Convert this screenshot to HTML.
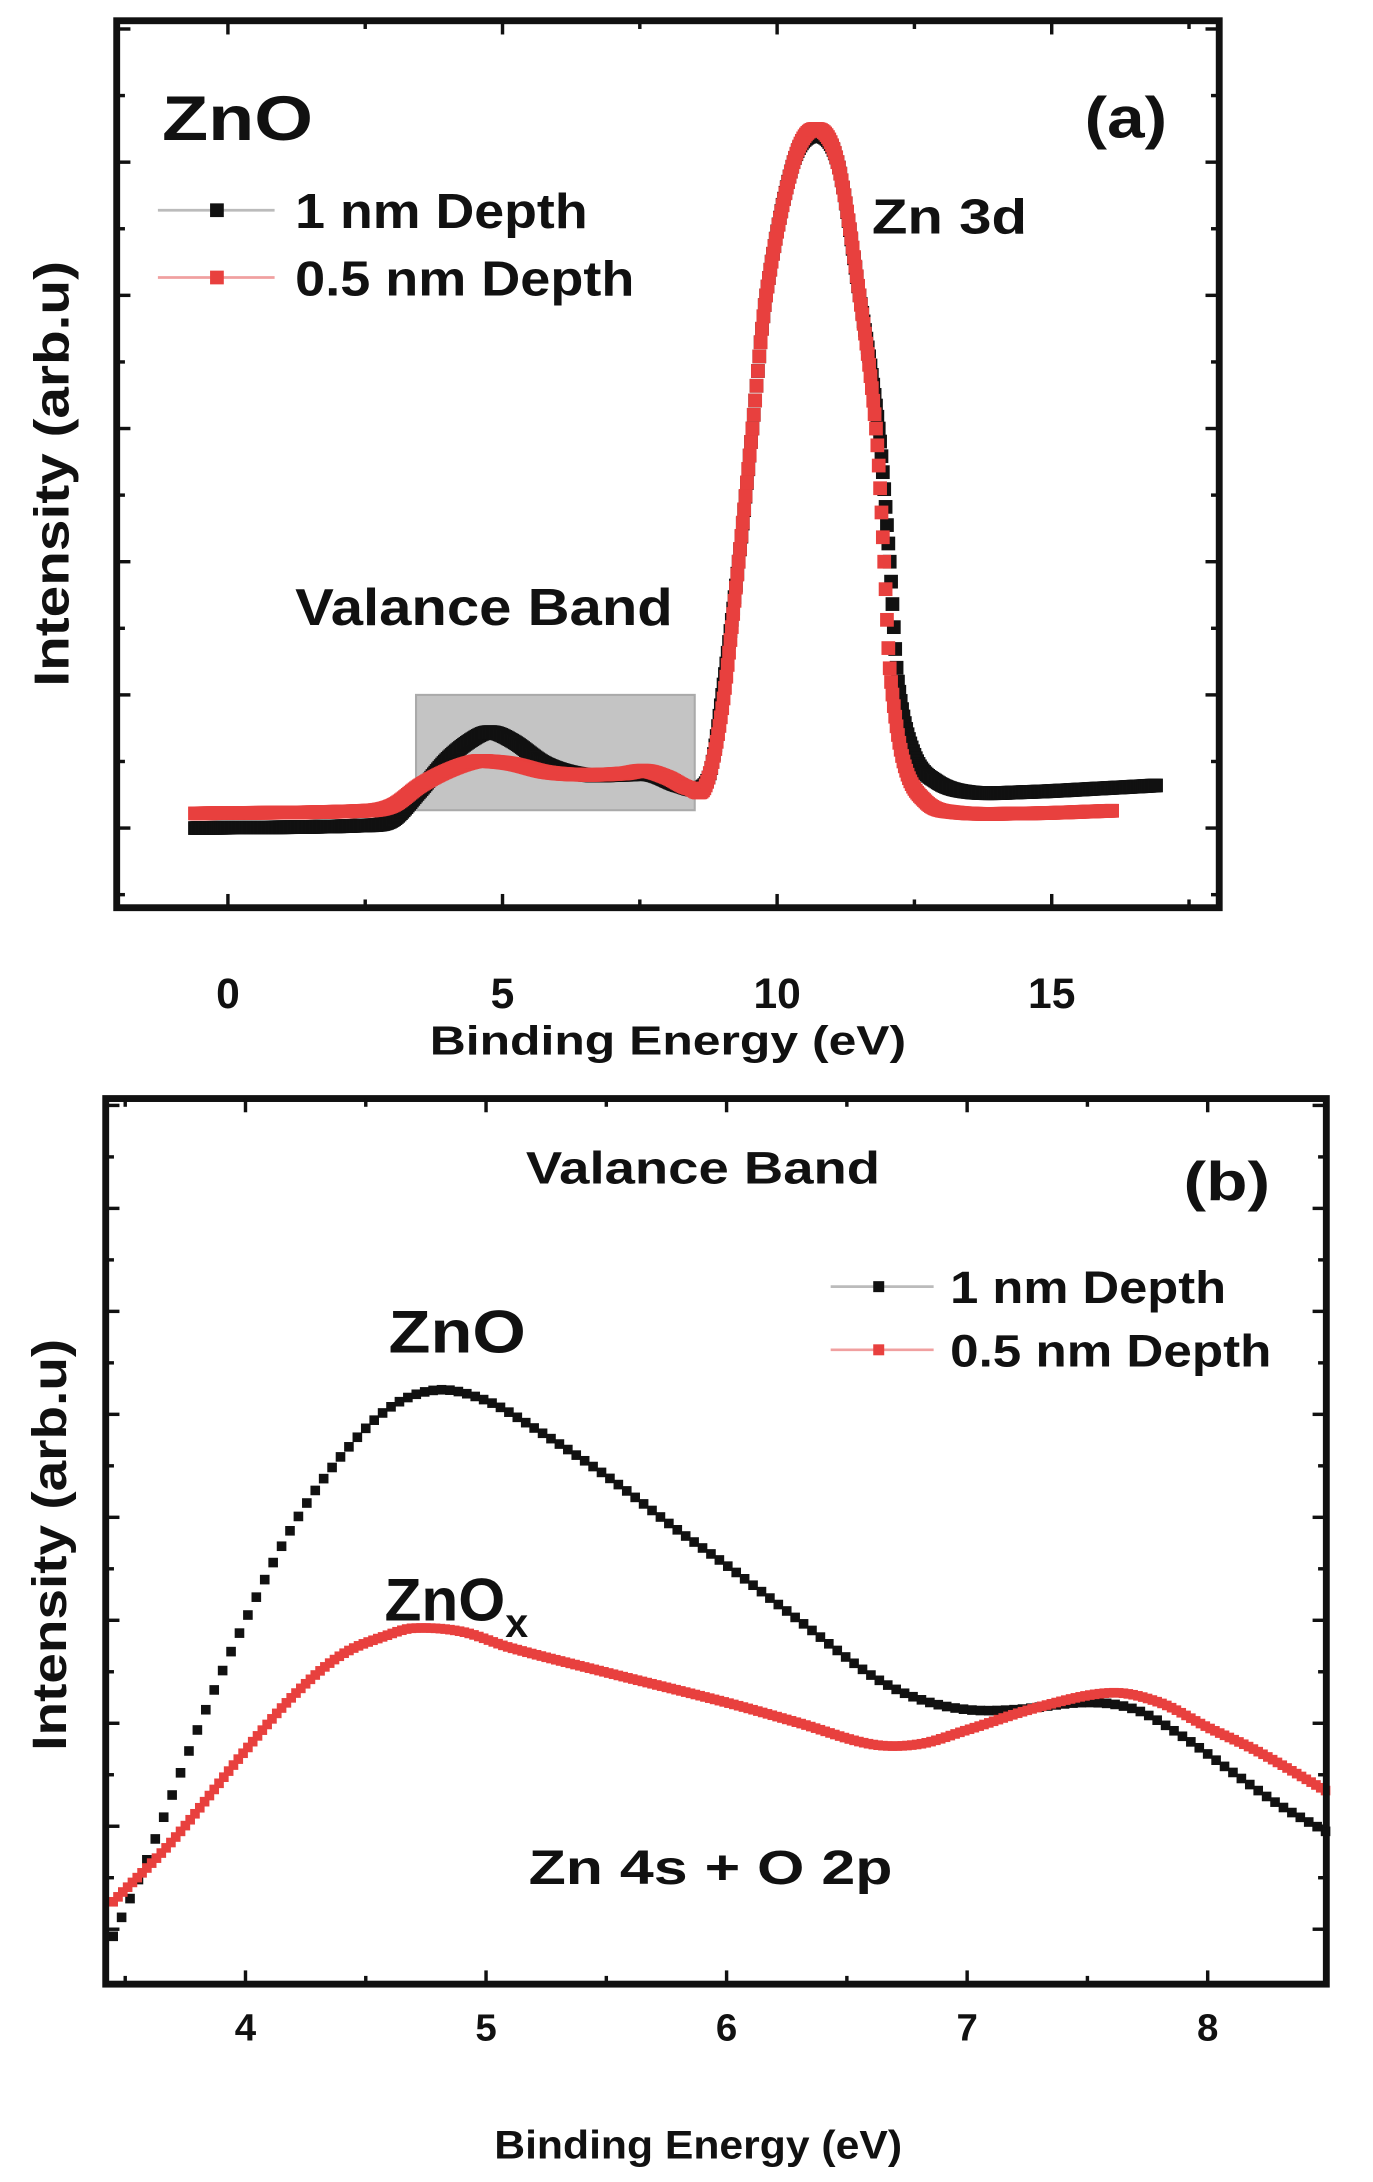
<!DOCTYPE html>
<html><head><meta charset="utf-8"><style>
html,body{margin:0;padding:0;background:#fff;}
svg{display:block;}
text{font-family:"Liberation Sans",Arial,sans-serif;font-weight:bold;fill:#111;}
</style></head><body>
<svg id="fig" width="1373" height="2182" viewBox="0 0 1000 1589" xmlns="http://www.w3.org/2000/svg">
<g id="pa">
  <rect x="303" y="506" width="203" height="84" fill="#c4c4c4" stroke="#aaa" stroke-width="1.5"/>
  <g id="pa-data"></g>
  <rect x="85" y="15" width="803" height="646" fill="none" stroke="#111" stroke-width="5"/>
  <g id="pa-ticks"></g>
  <text x="118" y="102" font-size="46" textLength="110" lengthAdjust="spacingAndGlyphs">ZnO</text>
  <text x="790" y="100" font-size="42" textLength="60" lengthAdjust="spacingAndGlyphs">(a)</text>
  <line x1="115" y1="153" x2="200" y2="153" stroke="#bbb" stroke-width="2"/>
  <rect x="153" y="148" width="10" height="10" fill="#111"/>
  <text x="215" y="166" font-size="36" textLength="213" lengthAdjust="spacingAndGlyphs">1 nm Depth</text>
  <line x1="115" y1="202" x2="200" y2="202" stroke="#f0a0a0" stroke-width="2"/>
  <rect x="153" y="197" width="10" height="10" fill="#e8403e"/>
  <text x="215" y="215" font-size="36" textLength="247" lengthAdjust="spacingAndGlyphs">0.5 nm Depth</text>
  <text x="635" y="170" font-size="36" textLength="113" lengthAdjust="spacingAndGlyphs">Zn 3d</text>
  <text x="215" y="455" font-size="38" textLength="275" lengthAdjust="spacingAndGlyphs">Valance Band</text>
  <text x="313" y="768" font-size="30" textLength="347" lengthAdjust="spacingAndGlyphs">Binding Energy (eV)</text>
  <text transform="translate(50,345) rotate(-90)" font-size="36" text-anchor="middle" textLength="310" lengthAdjust="spacingAndGlyphs">Intensity (arb.u)</text>
</g>
<g id="pb">
  <g id="pb-data"></g>
  <rect x="77" y="800" width="889" height="645" fill="none" stroke="#111" stroke-width="5"/>
  <g id="pb-ticks"></g>
  <text x="383" y="862" font-size="33" textLength="258" lengthAdjust="spacingAndGlyphs">Valance Band</text>
  <text x="862" y="874" font-size="40" textLength="63" lengthAdjust="spacingAndGlyphs">(b)</text>
  <line x1="605" y1="937" x2="680" y2="937" stroke="#bbb" stroke-width="2"/>
  <rect x="636" y="933" width="8" height="8" fill="#111"/>
  <text x="692" y="949" font-size="33" textLength="201" lengthAdjust="spacingAndGlyphs">1 nm Depth</text>
  <line x1="605" y1="983" x2="680" y2="983" stroke="#f0a0a0" stroke-width="2"/>
  <rect x="636" y="979" width="8" height="8" fill="#e8403e"/>
  <text x="692" y="995" font-size="33" textLength="234" lengthAdjust="spacingAndGlyphs">0.5 nm Depth</text>
  <text x="283" y="985" font-size="44" textLength="100" lengthAdjust="spacingAndGlyphs">ZnO</text>
  <text x="280" y="1180" font-size="44">ZnO<tspan font-size="30" dy="12">x</tspan></text>
  <text x="385" y="1372" font-size="35" textLength="265" lengthAdjust="spacingAndGlyphs">Zn 4s + O 2p</text>
  <text x="360" y="1572" font-size="29" textLength="297" lengthAdjust="spacingAndGlyphs">Binding Energy (eV)</text>
  <text transform="translate(48,1125) rotate(-90)" font-size="35" text-anchor="middle" textLength="300" lengthAdjust="spacingAndGlyphs">Intensity (arb.u)</text>
</g>
</svg>
<script>
// Panel (a) data
const aBlackE = [-0.6,2.5,3.0,3.5,4.0,4.5,4.8,5.2,5.8,6.5,7.2,7.7,8.2,8.6,8.8,9.0,9.3,9.55,9.8,10.3,10.7,11.1,11.5,11.85,12.05,12.2,12.5,12.9,13.5,14.5,16,16.9];
const aBlackV = [0,0.02,0.06,0.28,0.52,0.68,0.72,0.65,0.48,0.4,0.4,0.4,0.32,0.3,0.45,1.0,2.0,3.0,4.0,5.0,5.2,5.0,4.0,3.0,2.0,1.1,0.55,0.35,0.27,0.27,0.3,0.32];
const aRedE = [-0.6,2.5,3.0,3.5,4.0,4.5,4.8,5.2,5.8,6.5,7.2,7.6,8.0,8.4,8.7,9.0,9.3,9.55,9.8,10.3,10.7,11.1,11.5,11.8,11.95,12.05,12.3,12.7,13.2,14.5,16.1];
const aRedV = [0.11,0.13,0.17,0.32,0.43,0.5,0.5,0.48,0.42,0.4,0.41,0.43,0.38,0.3,0.32,0.9,2.0,3.0,4.0,5.0,5.25,5.0,4.0,3.0,2.0,1.2,0.5,0.2,0.12,0.11,0.13];
const aXTicks = [0,5,10,15];
// Panel (b) data
const bBlackE = [3.45,3.6,3.8,4.0,4.2,4.4,4.6,4.8,5.0,5.2,5.5,5.8,6.0,6.3,6.6,6.8,7.0,7.2,7.5,7.7,7.9,8.1,8.3,8.5];
const bBlackV = [5.4,14.7,28.7,41.1,51.9,59.7,65.1,67.1,65.9,62.8,57.4,51.2,47.3,41.1,34.9,32.2,31.0,31.0,31.8,31.0,27.9,24.0,20.2,17.1];
const bRedE = [3.45,3.7,4.0,4.2,4.4,4.6,4.7,4.9,5.1,5.5,6.0,6.3,6.6,6.8,7.0,7.3,7.6,7.8,8.0,8.2,8.5];
const bRedV = [9.3,16.3,26.4,32.6,37.2,39.5,40.2,39.8,38.0,35.2,31.8,29.5,27.1,27.1,28.7,31.3,32.9,31.8,29.0,26.4,21.7];
const bXTicks = [4,5,6,7,8];

const NS="http://www.w3.org/2000/svg";
const xa=e=>166+40*e, ya=v=>603-97*v;
const xb=e=>354+175.2*(e-5), yb=v=>1445-6.45*v;
// smooth (Catmull-Rom, non-uniform) interpolation through the read points
function interp(E,V,e){
  const n=E.length;
  for(let i=0;i<n-1;i++){
    if(e>=E[i]&&e<=E[i+1]){
      const h=E[i+1]-E[i], t=(e-E[i])/h;
      const m0 = i>0 ? (V[i+1]-V[i-1])/(E[i+1]-E[i-1])*h : (V[i+1]-V[i]);
      const m1 = i<n-2 ? (V[i+2]-V[i])/(E[i+2]-E[i])*h : (V[i+1]-V[i]);
      const t2=t*t,t3=t2*t;
      return (2*t3-3*t2+1)*V[i]+(t3-2*t2+t)*m0+(-2*t3+3*t2)*V[i+1]+(t3-t2)*m1;
    }
  }
  return null;
}
function mk(tag,attrs,parent){const el=document.createElementNS(NS,tag);for(const k in attrs)el.setAttribute(k,attrs[k]);parent.appendChild(el);return el;}
function series(E,V,xf,yf,step,size,color,parent,name){
  const g=mk('g',{},parent);
  
  
  for(let e=E[0];e<=E[E.length-1]+1e-9;e+=step){
    const v=interp(E,V,Math.min(e,E[E.length-1]));if(v===null)continue;
    const r=mk('rect',{x:xf(e)-size/2,y:yf(v)-size/2,width:size,height:size,fill:color},g);
    
    
  }
}
const pa=document.getElementById('pa-data'), pb=document.getElementById('pb-data');
series(aBlackE,aBlackV,xa,ya,0.025,10,'#111',pa,'series-a-1nm');
series(aRedE,aRedV,xa,ya,0.025,10,'#e8403e',pa,'series-a-05nm');
series(bBlackE,bBlackV,xb,yb,0.035,7,'#111',pb,'series-b-1nm');
series(bRedE,bRedV,xb,yb,0.02,7,'#e8403e',pb,'series-b-05nm');

// ticks panel a
const ta=document.getElementById('pa-ticks');
for(let e=-2.5;e<=17.6;e+=2.5){const x=xa(e);if(x<88||x>885)continue;const L=(Math.abs(e%5)<1e-6)?10:6;
  mk('line',{x1:x,y1:661,x2:x,y2:661-L,stroke:'#111','stroke-width':2.5},ta);mk('line',{x1:x,y1:15,x2:x,y2:15+L,stroke:'#111','stroke-width':2.5},ta);}
aXTicks.forEach(t=>{const tx=mk('text',{x:xa(t),y:734,'font-size':31,'text-anchor':'middle'},ta);tx.textContent=t;
  
  });
for(let v=-0.5;v<=6.01;v+=0.5){const y=ya(v);if(y<18||y>658)continue;const L=(Math.abs(v%1)<1e-6)?10:6;
  mk('line',{x1:85,y1:y,x2:85+L,y2:y,stroke:'#111','stroke-width':2.5},ta);mk('line',{x1:888,y1:y,x2:888-L,y2:y,stroke:'#111','stroke-width':2.5},ta);}
// ticks panel b
const tb=document.getElementById('pb-ticks');
for(let e=3.5;e<=8.5;e+=0.5){const x=xb(e);if(x<80||x>963)continue;const L=(Math.abs(e%1)<1e-6)?10:6;
  mk('line',{x1:x,y1:1445,x2:x,y2:1445-L,stroke:'#111','stroke-width':2.5},tb);mk('line',{x1:x,y1:800,x2:x,y2:800+L,stroke:'#111','stroke-width':2.5},tb);}
bXTicks.forEach(t=>{const tx=mk('text',{x:xb(t),y:1486,'font-size':28,'text-anchor':'middle'},tb);tx.textContent=t;
  
  });
for(let k=0;k<=17;k++){const y=1405-37.5*k;if(y<803)continue;const L=(k%2===0)?10:6;
  mk('line',{x1:77,y1:y,x2:77+L,y2:y,stroke:'#111','stroke-width':2.5},tb);mk('line',{x1:966,y1:y,x2:966-L,y2:y,stroke:'#111','stroke-width':2.5},tb);}
</script>
</body></html>
